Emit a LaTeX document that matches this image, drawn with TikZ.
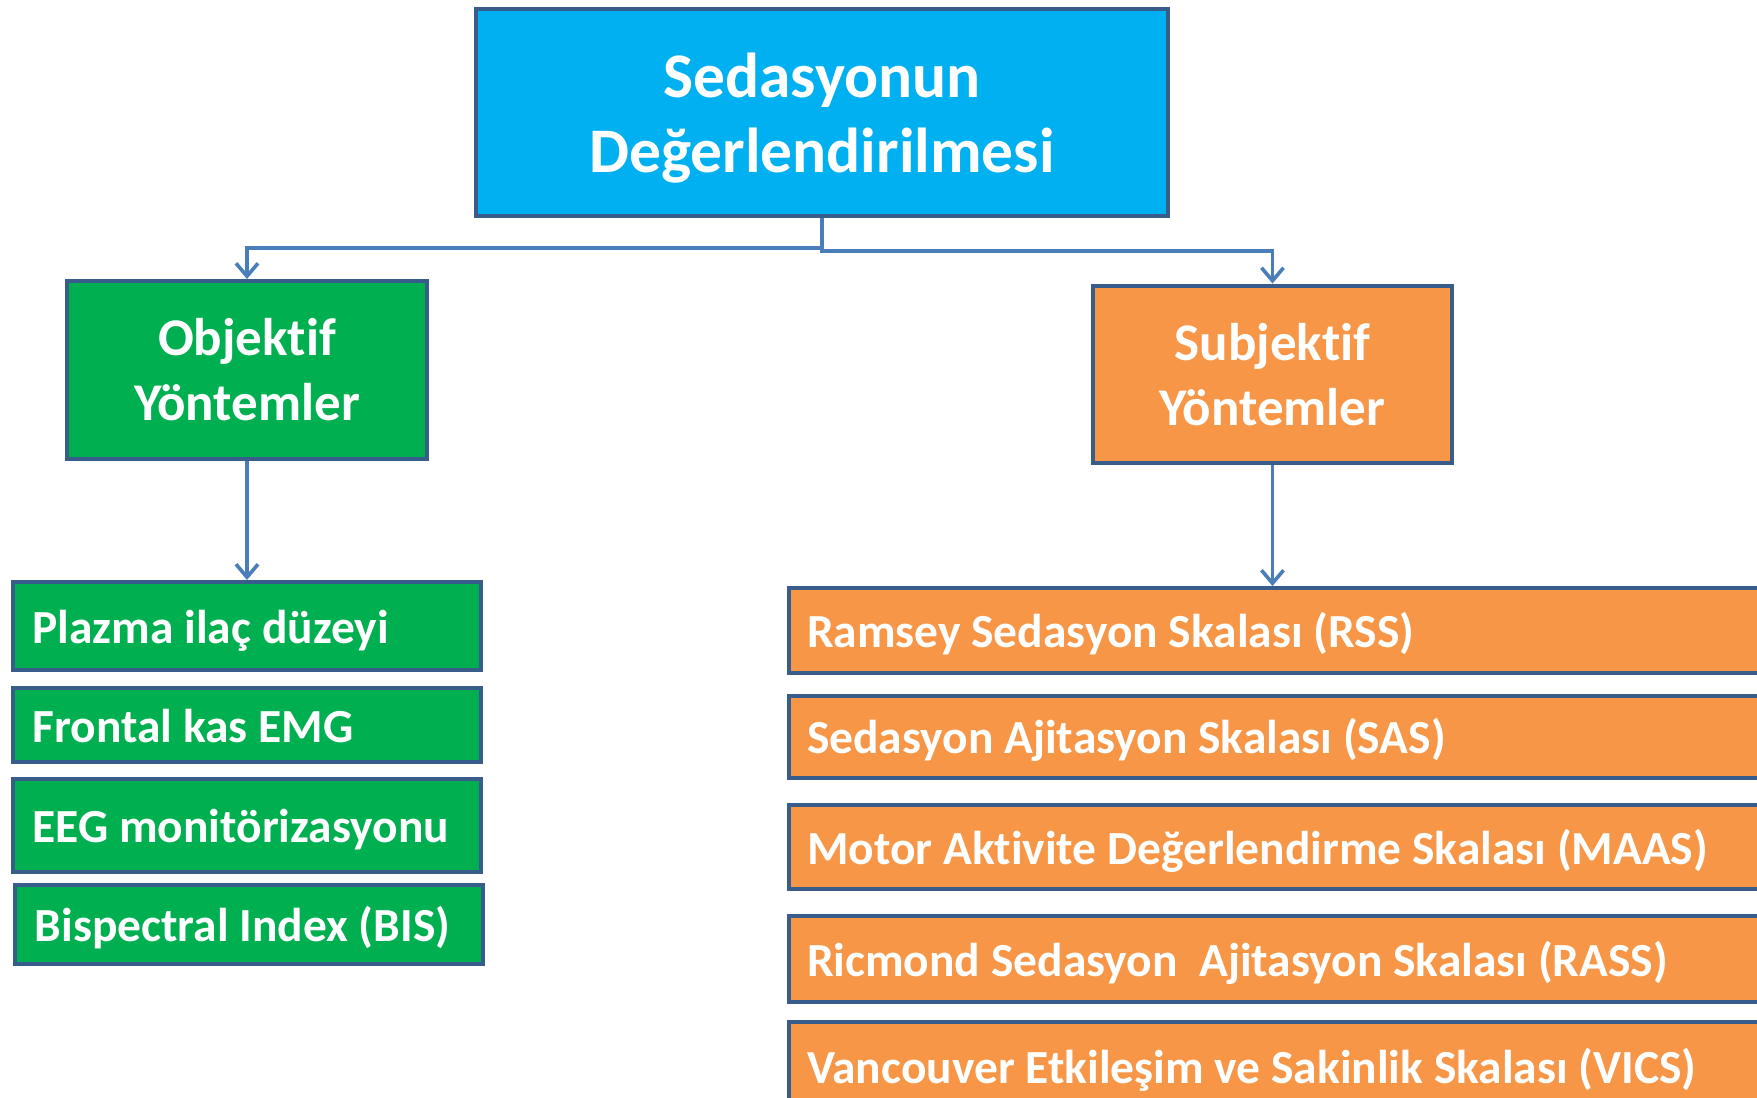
\documentclass[tikz,border=0pt]{standalone}
\usepackage{fontspec}
\setmainfont{Carlito}[Ligatures={NoCommon}]
\usetikzlibrary{arrows.meta}
\definecolor{topblue}{HTML}{00B0F0}
\definecolor{objgreen}{HTML}{00B050}
\definecolor{subjorange}{HTML}{F79646}
\definecolor{bordercol}{HTML}{385D8A}
\definecolor{conncol}{HTML}{4A7EBB}
\begin{document}
\begin{tikzpicture}[x=1pt,y=-1pt,
  box/.style={draw=bordercol, line width=4pt, rectangle, inner sep=0pt, text=white, font=\bfseries},
  headbox/.style={box, align=center},
  leftitem/.style={box, fill=objgreen, text width=429pt, inner xsep=19.5pt, align=flush left,
     text height=43.7pt, text depth=9.5pt, font=\bfseries\fontsize{47.5}{57}\selectfont},
  rightitem/.style={box, fill=subjorange, text width=974.5pt, inner xsep=18.5pt, align=flush left,
     text height=43.7pt, text depth=9.5pt, font=\bfseries\fontsize{47.5}{57}\selectfont},
  conn/.style={draw=conncol, line width=3.6pt, -{Straight Barb[length=13pt,width=22pt,line width=3.6pt]}}
]
\clip (0,0) rectangle (1757,1098);
\fill[white] (0,0) rectangle (1757,1098);

% top
\node[headbox, fill=topblue, minimum width=692pt, minimum height=207.5pt,
      font=\bfseries\fontsize{63.5}{75}\selectfont] (top) at (822,112.7) {\rule{0pt}{56pt}Sedasyonun\\Değerlendirilmesi};

% second level
\node[headbox, fill=objgreen, minimum width=360pt, minimum height=177.5pt,
      font=\bfseries\fontsize{53}{65}\selectfont] (obj) at (247,369.8) {Objektif\\Yöntemler};
\node[headbox, fill=subjorange, minimum width=359pt, minimum height=177.5pt,
      font=\bfseries\fontsize{53}{65}\selectfont] (subj) at (1272.5,374.3) {Subjektif\\Yöntemler};

% left items
\node[leftitem, minimum height=88pt] (plazma) at (247,626) {Plazma ilaç düzeyi};
\node[leftitem, minimum height=74pt] (frontal) at (247,725) {Frontal kas EMG};
\node[leftitem, minimum height=93.5pt] (eeg) at (247,825.3) {EEG monitörizasyonu};
\node[leftitem, minimum height=79pt] (bis) at (249.3,924.5) {Bispectral Index (BIS)};

% right items
\node[rightitem, minimum height=84.5pt] (rss) at (1294.25,630.3) {Ramsey Sedasyon Skalası (RSS)};
\node[rightitem, minimum height=82.5pt] (sas) at (1294.25,736.8) {Sedasyon Ajitasyon Skalası (SAS)};
\node[rightitem, minimum height=84pt] (maas) at (1294.25,847) {Motor Aktivite Değerlendirme Skalası (MAAS)};
\node[rightitem, minimum height=86pt] (rass) at (1294.25,959) {Ricmond Sedasyon\ \ Ajitasyon Skalası (RASS)};
\node[rightitem, minimum height=88pt] (vics) at (1294.25,1066) {Vancouver Etkileşim ve Sakinlik Skalası (VICS)};

% connectors
\coordinate (jl) at (822,248);
\coordinate (jr) at (822,251);
\draw[conn] (top.south) -- (jl) -| (obj.north);
\draw[conn] (top.south) -- (jr) -| (subj.north);
\draw[conn] (obj.south) -- (plazma.north);
\draw[conn] (subj.south) -- (subj.south |- rss.north);
\end{tikzpicture}
\end{document}
